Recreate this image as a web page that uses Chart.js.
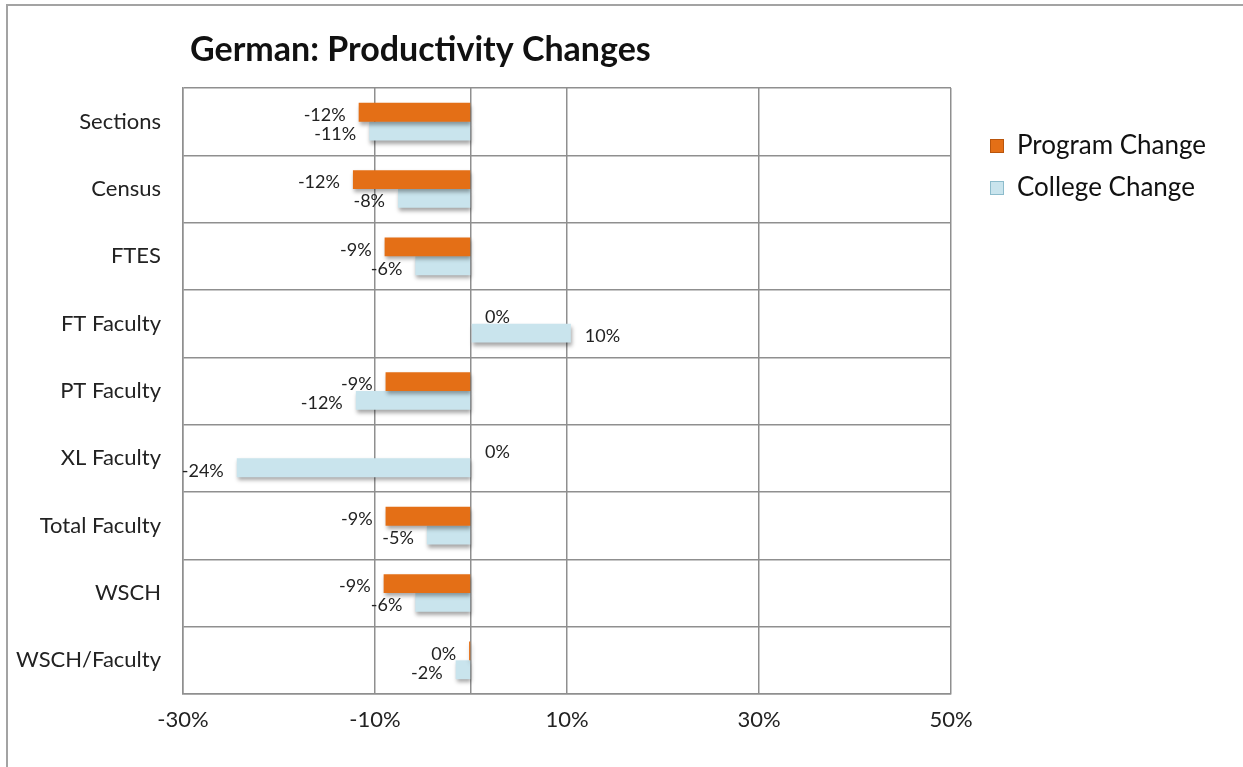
<!DOCTYPE html>
<html lang="en">
<head>
<meta charset="UTF-8">
<title>German: Productivity Changes</title>
<style>
    body { margin: 0; background: #ffffff; }
    #wrap { position: relative; width: 1243px; height: 767px; }
</style>
</head>
<body>
<div id="wrap"><canvas id="chart"></canvas></div>
<script src="https://cdn.jsdelivr.net/npm/chart.js@4.4.0/dist/chart.umd.min.js"></script>
<script>
    // chart data
    var chartTitle = 'German: Productivity Changes';
    var categories = ['Sections', 'Census', 'FTES', 'FT Faculty', 'PT Faculty', 'XL Faculty', 'Total Faculty', 'WSCH', 'WSCH/Faculty'];
    var programChange = [-11.7, -12.3, -9.0, 0, -8.9, 0, -8.9, -9.1, -0.2];
    var collegeChange = [-10.6, -7.6, -5.8, 10.4, -12.0, -24.4, -4.6, -5.8, -1.6];
    var xTickLabels = [-30, -10, 10, 30, 50];

    var FONT = 'Lato, "DejaVu Sans", sans-serif';
    var GRID = '#8f8f8f';

    // outer frame, title and legend drawn on the canvas
    var decorPlugin = {
        id: 'decor',
        beforeDraw: function(chart) {
            var ctx = chart.ctx;
            ctx.save();
            ctx.strokeStyle = '#a3a3a3';
            ctx.lineWidth = 2;
            ctx.beginPath();
            ctx.moveTo(7, chart.height);
            ctx.lineTo(7, 5);
            ctx.lineTo(chart.width, 5);
            ctx.stroke();
            ctx.restore();
        },
        afterDraw: function(chart) {
            var ctx = chart.ctx, area = chart.chartArea;
            ctx.save();
            ctx.fillStyle = '#111';
            ctx.font = 'bold 34px ' + FONT;
            ctx.textBaseline = 'middle';
            ctx.textAlign = 'left';
            ctx.fillText(chartTitle, area.left + 7, 50);

            chart.data.datasets.forEach(function(ds, i) {
                var y = area.top + 58 + i * 42;
                var x = area.right + 39;
                ctx.fillStyle = ds.backgroundColor;
                ctx.fillRect(x, y - 7, 14, 14);
                ctx.strokeStyle = ds.edgeColor;
                ctx.lineWidth = 1;
                ctx.strokeRect(x + 0.5, y - 6.5, 13, 13);
                ctx.fillStyle = '#111';
                ctx.font = '26px ' + FONT;
                ctx.fillText(ds.label, x + 27, y);
            });
            ctx.restore();
        }
    };

    // shadows under bars and value labels at the bar ends
    var barLabelPlugin = {
        id: 'barLabels',
        beforeDatasetDraw: function(chart) {
            var ctx = chart.ctx;
            ctx.save();
            ctx.shadowColor = 'rgba(0,0,0,0.35)';
            ctx.shadowBlur = 4;
            ctx.shadowOffsetX = 1;
            ctx.shadowOffsetY = 3;
        },
        afterDatasetDraw: function(chart) {
            chart.ctx.restore();
        },
        afterDatasetsDraw: function(chart) {
            var ctx = chart.ctx;
            ctx.save();
            ctx.font = '18px ' + FONT;
            ctx.fillStyle = '#222';
            ctx.textBaseline = 'middle';
            chart.data.datasets.forEach(function(ds, i) {
                var meta = chart.getDatasetMeta(i);
                meta.data.forEach(function(bar, j) {
                    var v = ds.data[j];
                    var txt = (Math.round(v) || 0) + '%';
                    if (v < 0) {
                        ctx.textAlign = 'right';
                        ctx.fillText(txt, bar.x - 13, bar.y + 3);
                    } else {
                        ctx.textAlign = 'left';
                        ctx.fillText(txt, bar.x + 14, bar.y + 3);
                    }
                });
            });
            ctx.restore();
        }
    };

    var ctx = document.getElementById('chart').getContext('2d');
    var chart = new Chart(ctx, {
        type: 'bar',
        data: {
            labels: categories,
            datasets: [{
                label: 'Program Change',
                data: programChange,
                backgroundColor: '#e46f16',
                edgeColor: '#b9550c',
                borderWidth: 0,
                categoryPercentage: 0.56,
                barPercentage: 1
            }, {
                label: 'College Change',
                data: collegeChange,
                backgroundColor: '#c9e4ed',
                edgeColor: '#8dbccc',
                borderWidth: 0,
                categoryPercentage: 0.56,
                barPercentage: 1
            }]
        },
        options: {
            indexAxis: 'y',
            responsive: true,
            maintainAspectRatio: false,
            animation: false,
            layout: { padding: { top: 88, right: 292, bottom: 0, left: 0 } },
            plugins: {
                legend: { display: false },
                tooltip: { enabled: false },
                title: { display: false }
            },
            scales: {
                x: {
                    min: -30,
                    max: 50,
                    ticks: {
                        stepSize: 10,
                        autoSkip: false,
                        maxRotation: 0,
                        padding: 13,
                        color: '#222',
                        font: { family: FONT, size: 22 },
                        callback: function(v) {
                            return xTickLabels.indexOf(v) >= 0 ? v + '%' : '';
                        }
                    },
                    grid: {
                        drawTicks: false,
                        lineWidth: 1.5,
                        color: function(c) {
                            var v = c.tick ? c.tick.value : null;
                            return (xTickLabels.indexOf(v) >= 0 || v === 0) ? GRID : 'rgba(0,0,0,0)';
                        }
                    },
                    border: { color: GRID, width: 1.5 },
                    afterFit: function(scale) { scale.height = 73; }
                },
                y: {
                    ticks: {
                        padding: 22,
                        color: '#222',
                        font: { family: FONT, size: 22 }
                    },
                    grid: {
                        offset: true,
                        drawTicks: false,
                        lineWidth: 1.5,
                        color: GRID
                    },
                    border: { color: GRID, width: 1.5 },
                    afterFit: function(scale) { scale.width = 183; }
                }
            }
        },
        plugins: [decorPlugin, barLabelPlugin]
    });
</script>
</body>
</html>
